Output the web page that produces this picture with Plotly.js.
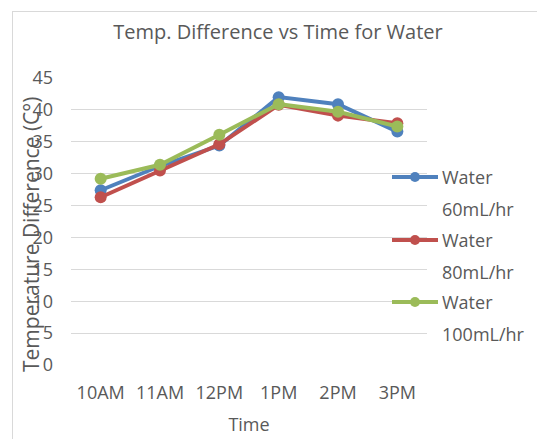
<!DOCTYPE html>
<html>
<head>
<meta charset="utf-8">
<script src="https://cdn.plot.ly/plotly-3.0.1.min.js"></script>
<style>html,body{margin:0;padding:0;background:#fff;}#chart{width:537px;height:439px;}</style>
</head>
<body>
<div id="chart"></div>
<script>
const times = ['10AM', '11AM', '12PM', '1PM', '2PM', '3PM'];
const water60 = [27.4, 31.2, 34.4, 42.0, 40.9, 36.6];
const water80 = [26.3, 30.5, 34.6, 40.8, 39.1, 37.9];
const water100 = [29.2, 31.4, 36.1, 40.9, 39.7, 37.4];
const seriesLabel = 'Water';
const seriesRates = ['60mL/hr', '80mL/hr', '100mL/hr'];
const seriesColors = ['#4F81BD', '#C0504D', '#9BBB59'];
const yTicks = [0, 5, 10, 15, 20, 25, 30, 35, 40, 45];

const font = "'Open Sans', 'Liberation Sans', sans-serif";
const grey = '#595959';

const values = [water60, water80, water100];
const traces = values.map((v, i) => ({
  x: times, y: v, type: 'scatter', mode: 'lines+markers',
  name: seriesLabel + ' ' + seriesRates[i],
  line: {color: seriesColors[i], width: 4},
  marker: {color: seriesColors[i], size: 12},
  showlegend: false, hoverinfo: 'skip'
}));

const W = 537, H = 439, L = 71, R = 427, T = 78, B = 365;
const px = x => (x - L) / (R - L);
const py = y => (B - y) / (B - T);

const shapes = [
  {type: 'line', xref: 'paper', yref: 'paper', x0: px(12), x1: px(W + 5), y0: py(11.5), y1: py(11.5), line: {color: '#D9D9D9', width: 1}},
  {type: 'line', xref: 'paper', yref: 'paper', x0: px(12.5), x1: px(12.5), y0: py(11), y1: py(H + 5), line: {color: '#D9D9D9', width: 1}}
];
const annotations = [
  {text: 'Temperature Difference (C°)', xref: 'paper', yref: 'paper', x: px(31), y: py(234), textangle: -90, showarrow: false, font: {family: font, size: 21, color: grey}, xanchor: 'center', yanchor: 'middle'}
];
const legendY = [177, 240, 302];
seriesRates.forEach((rate, i) => {
  const yc = legendY[i];
  shapes.push({type: 'line', xref: 'paper', yref: 'paper', x0: px(392), x1: px(438), y0: py(yc), y1: py(yc), line: {color: seriesColors[i], width: 4}});
  shapes.push({type: 'circle', xref: 'paper', yref: 'paper', xsizemode: 'pixel', ysizemode: 'pixel', xanchor: px(415), yanchor: py(yc), x0: -5, x1: 5, y0: -5, y1: 5, fillcolor: seriesColors[i], line: {color: seriesColors[i], width: 0}});
  annotations.push({text: seriesLabel, xref: 'paper', yref: 'paper', x: px(440), y: py(yc), xanchor: 'left', yanchor: 'middle', showarrow: false, font: {family: font, size: 18, color: grey}});
  annotations.push({text: rate, xref: 'paper', yref: 'paper', x: px(440), y: py(yc + 32), xanchor: 'left', yanchor: 'middle', showarrow: false, font: {family: font, size: 18, color: grey}});
});

const layout = {
  width: W, height: H,
  margin: {l: L, r: W - R, t: T, b: H - B, pad: 0},
  paper_bgcolor: '#fff', plot_bgcolor: '#fff',
  font: {family: font, color: grey, size: 18},
  title: {text: 'Temp. Difference vs Time for Water', font: {family: font, size: 20, color: grey}, xref: 'paper', x: px(278), xanchor: 'center', yref: 'container', y: 1 - 32 / H, yanchor: 'middle'},
  xaxis: {
    type: 'category', categoryorder: 'array', categoryarray: times,
    range: [-0.5, times.length - 0.5],
    showgrid: false, zeroline: false, showline: false,
    ticks: '', ticklabelstandoff: 15,
    tickfont: {family: font, size: 18, color: grey},
    title: {text: 'Time', font: {family: font, size: 18, color: grey}, standoff: 15},
    automargin: false,
    fixedrange: true
  },
  yaxis: {
    range: [0, 45], tickvals: yTicks, ticktext: yTicks.map(String),
    showgrid: true, gridcolor: '#D9D9D9', gridwidth: 1,
    zeroline: false, showline: false, ticks: '', ticklabelstandoff: 17,
    tickfont: {family: font, size: 18, color: grey},
    automargin: false,
    fixedrange: true
  },
  shapes: shapes,
  annotations: annotations,
  showlegend: false
};

Plotly.newPlot('chart', traces, layout, {staticPlot: true, displayModeBar: false});
</script>
</body>
</html>
